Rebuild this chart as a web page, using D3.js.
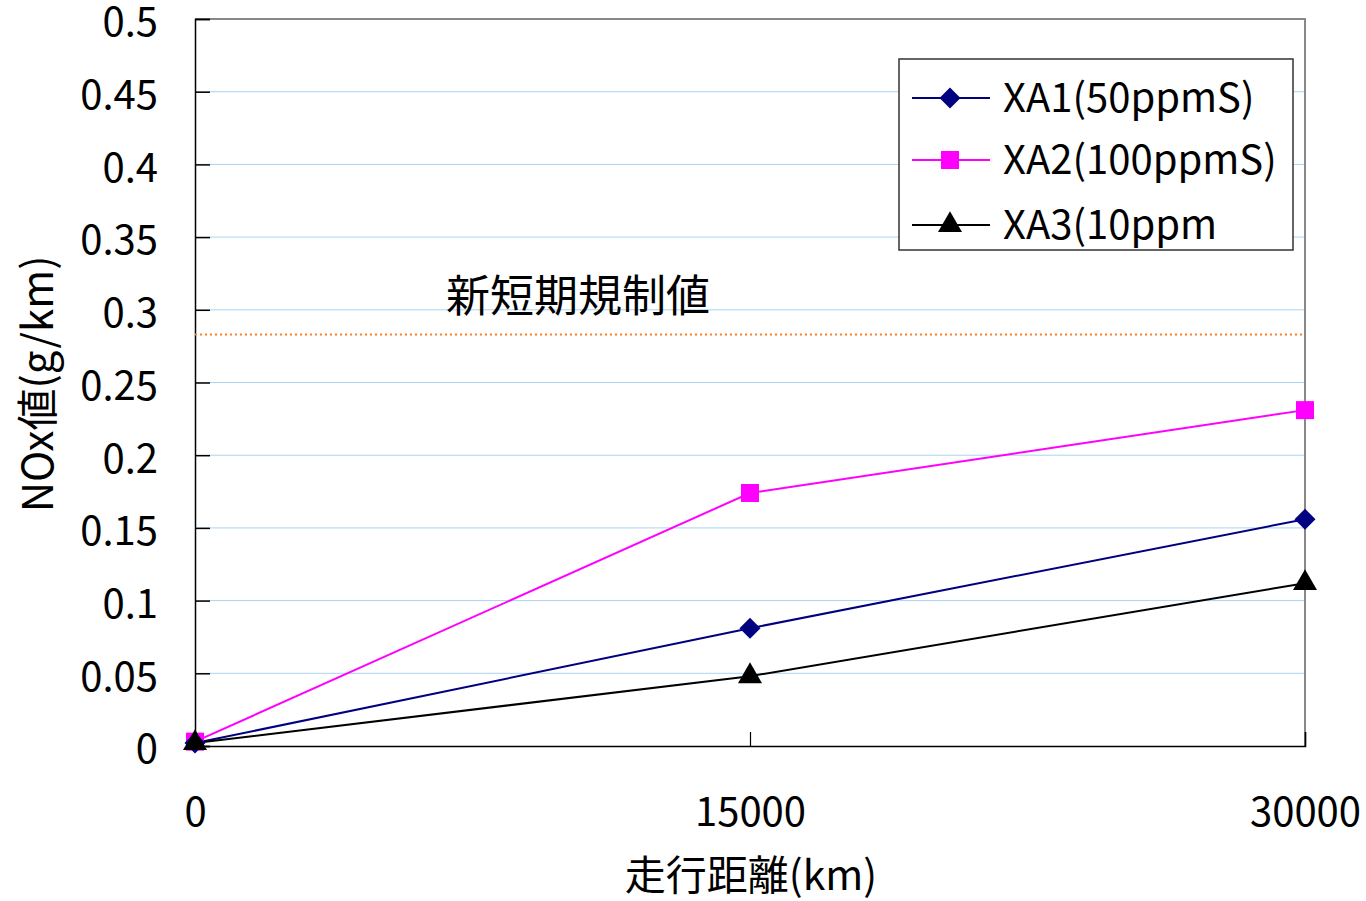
<!DOCTYPE html>
<html><head><meta charset="utf-8">
<script src="https://cdn.jsdelivr.net/npm/d3@7"></script>
<style>body{margin:0;background:#fff}svg{display:block}text{font-family:"Noto Sans CJK JP","Noto Sans",sans-serif;fill:#000}</style>
</head><body><svg id="c" width="1366" height="901"></svg>
<script>
const distances = [0, 15000, 30000];
const xa1 = [0.002, 0.081, 0.156];
const xa2 = [0.003, 0.174, 0.231];
const xa3 = [0.002, 0.048, 0.112];
const seriesNames = ["XA1(50ppmS)", "XA2(100ppmS)", "XA3(10ppm"];
const regulation = 0.283;
const regulationLabel = "新短期規制値";
const yTicks = [0,0.05,0.1,0.15,0.2,0.25,0.3,0.35,0.4,0.45,0.5];
const yTickLabels = ["0","0.05","0.1","0.15","0.2","0.25","0.3","0.35","0.4","0.45","0.5"];
const xTitle = "走行距離(km)";
const yTitle = "NOx値(g/km)";

const svg = d3.select("#c");
const L=195,R=1305,T=19,B=746;
const x = d3.scaleLinear().domain([0,30000]).range([L,R]);
const y = d3.scaleLinear().domain([0,0.5]).range([B,T]);

// gridlines
svg.append("g").selectAll("line").data(yTicks.filter(d=>d>0&&d<0.5)).join("line")
  .attr("x1",L).attr("x2",R).attr("y1",d=>y(d)).attr("y2",d=>y(d))
  .attr("stroke","#a8d4f0").attr("stroke-width",1);
// frame top/right grey
svg.append("path").attr("d",`M${L},${T}H${R}V${B}`).attr("fill","none").attr("stroke","#888").attr("stroke-width",2);

// axes
const yAxis = d3.axisLeft(y).tickValues(yTicks).tickSize(-15).tickPadding(37).tickFormat((d,i)=>yTickLabels[i]);
const gy = svg.append("g").attr("transform",`translate(${L},0)`).call(yAxis);
gy.select(".domain").attr("stroke","#000").attr("stroke-width",1.5);
gy.selectAll(".tick line").attr("stroke","#000").attr("stroke-width",1.5);
gy.selectAll(".tick text").style("font-size","40px").attr("font-family",null).attr("dy","0.42em");

const xAxis = d3.axisBottom(x).tickValues(distances).tickSize(-14).tickPadding(66).tickFormat(d3.format("d"));
const gx = svg.append("g").attr("transform",`translate(0,${B})`).call(xAxis);
gx.select(".domain").attr("stroke","#000").attr("stroke-width",1.5);
gx.selectAll(".tick line").attr("stroke","#000").attr("stroke-width",1.2);
gx.selectAll(".tick text").style("font-size","40px").attr("font-family",null).attr("dy","0.36em");

// regulation line
svg.append("line").attr("x1",L).attr("x2",R).attr("y1",y(regulation)).attr("y2",y(regulation))
  .attr("stroke","#ff8020").attr("stroke-width",2).attr("stroke-dasharray","2,3");
svg.append("text").attr("x",446).attr("y",296).attr("dy","0.36em").style("font-size","44px").text(regulationLabel);

// series
const colors = ["#000080","#ff00ff","#000000"];
const series = [xa1,xa2,xa3];
const symbols = [d3.symbolSquare, d3.symbolSquare, d3.symbolTriangle];
const sizes = [220, 324, 250];
const rot = [45, 0, 0];
const line = d3.line().x((d,i)=>x(distances[i])).y(d=>y(d));
[1,0,2].forEach(k=>{
  svg.append("path").datum(series[k]).attr("d",line).attr("fill","none").attr("stroke",colors[k]).attr("stroke-width",2);
});
function marker(g,k,cx,cy){
  g.append("path").attr("d",d3.symbol().type(symbols[k]).size(sizes[k])())
    .attr("transform",`translate(${cx},${cy}) rotate(${rot[k]})`).attr("fill",colors[k]);
}
[1,0,2].forEach(k=>{
  series[k].forEach((v,i)=>marker(svg,k,x(distances[i]),y(v)));
});

// legend
const lg = svg.append("g");
lg.append("rect").attr("x",899).attr("y",59).attr("width",394).attr("height",191).attr("fill","#fff").attr("stroke","#333").attr("stroke-width",1.5);
const ly=[98,160,225];
seriesNames.forEach((n,k)=>{
  lg.append("line").attr("x1",912).attr("x2",990).attr("y1",ly[k]).attr("y2",ly[k]).attr("stroke",colors[k]).attr("stroke-width",2);
  marker(lg,k,950,ly[k]);
  lg.append("text").attr("x",1003).attr("y",ly[k]).attr("dy","0.36em").style("font-size","40px").text(n);
});

// titles
svg.append("text").attr("x",751).attr("y",875).attr("text-anchor","middle").attr("dy","0.36em").style("font-size","41px").text(xTitle);
svg.append("text").attr("transform","translate(38,384) rotate(-90)").attr("text-anchor","middle").attr("dy","0.36em").style("font-size","42px").text(yTitle);
</script></body></html>
